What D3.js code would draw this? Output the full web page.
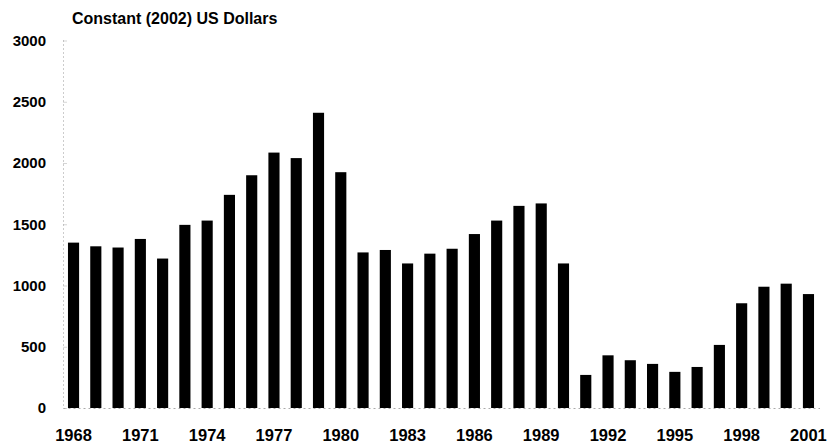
<!DOCTYPE html>
<html>
<head>
<meta charset="utf-8">
<script src="https://cdn.jsdelivr.net/npm/d3@7"></script>
<style>
  body { margin: 0; background: #fff; }
  text { font-family: "Liberation Sans", Arial, sans-serif; font-weight: bold; }
</style>
</head>
<body>
<div id="vis"></div>
<script>
const years = d3.range(1968, 2002);
const values = [1350, 1320, 1310, 1380, 1220, 1495, 1530, 1740, 1900, 2085, 2040, 2410,
  1925, 1270, 1290, 1180, 1260, 1300, 1420, 1530, 1650, 1670, 1180,
  270, 430, 390, 360, 295, 335, 515, 855, 990, 1015, 930];
const yTicks = [0, 500, 1000, 1500, 2000, 2500, 3000];
const xTickYears = [1968, 1971, 1974, 1977, 1980, 1983, 1986, 1989, 1992, 1995, 1998, 2001];
const title = "Constant (2002) US Dollars";

const WIDTH = 828;
const HEIGHT = 447;

const data = years.map((y, i) => ({ year: y, value: values[i] }));

const svg = d3.select("#vis").append("svg")
  .attr("width", WIDTH).attr("height", HEIGHT);

const escalaX = d3.scaleBand()
  .domain(years)
  .range([62.4, 819.6])
  .paddingInner(0.5)
  .paddingOuter(0.25);

const escalaY = d3.scaleLinear()
  .domain([0, 3000])
  .range([408, 40.5]);

// eje Y punteado
svg.append("line")
  .attr("x1", 63.5).attr("x2", 63.5)
  .attr("y1", escalaY(3000)).attr("y2", escalaY(0))
  .attr("stroke", "#999").attr("stroke-width", 1)
  .attr("stroke-dasharray", "1 3");

svg.selectAll(".ytick")
  .data(yTicks).join("line")
  .attr("x1", 63.5).attr("x2", 67)
  .attr("y1", d => escalaY(d) + 0.5).attr("y2", d => escalaY(d) + 0.5)
  .attr("stroke", "#aaa").attr("stroke-dasharray", "1 1");

svg.selectAll(".ylabel")
  .data(yTicks).join("text")
  .attr("x", 46)
  .attr("y", d => escalaY(d))
  .attr("dy", "0.36em")
  .attr("text-anchor", "end")
  .attr("font-size", 15)
  .text(d => d);

// linea base
svg.append("line")
  .attr("x1", 63.5).attr("x2", 820)
  .attr("y1", 408.5).attr("y2", 408.5)
  .attr("stroke", "#aaa").attr("stroke-dasharray", "2 3");

svg.selectAll("rect")
  .data(data).join("rect")
  .attr("x", d => escalaX(d.year))
  .attr("width", escalaX.bandwidth())
  .attr("y", d => escalaY(d.value))
  .attr("height", d => escalaY(0) - escalaY(d.value))
  .attr("fill", "#000");

svg.selectAll(".xlabel")
  .data(xTickYears).join("text")
  .attr("x", d => escalaX(d) + escalaX.bandwidth() / 2)
  .attr("y", 441)
  .attr("text-anchor", "middle")
  .attr("font-size", 16.5)
  .text(d => d);

svg.append("text")
  .attr("x", 72).attr("y", 24)
  .attr("font-size", 16)
  .text(title);
</script>
</body>
</html>
